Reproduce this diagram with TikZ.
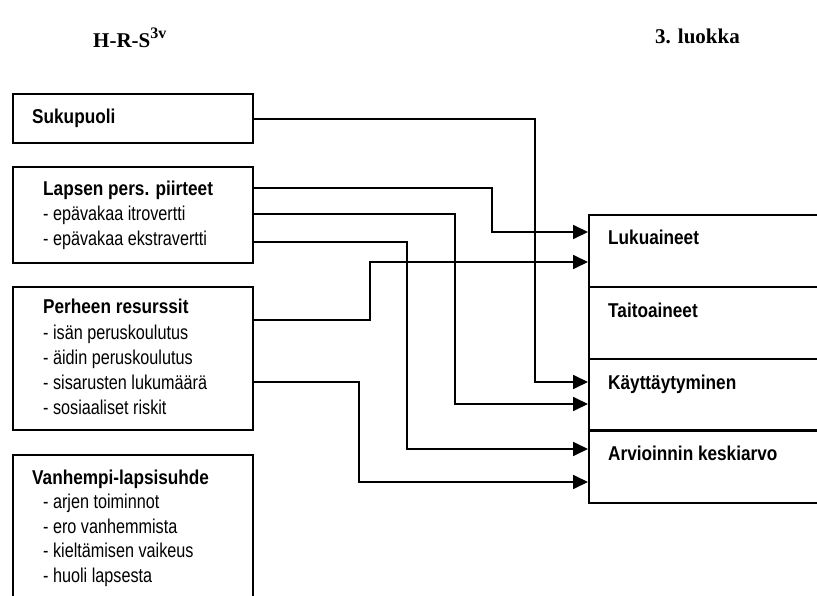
\documentclass[tikz,border=0pt]{standalone}
\usepackage{fontspec}
\usepackage{graphicx}
\setmainfont{Liberation Serif}
\newfontfamily\plainsans{Liberation Sans}
% condensed sans for the diagram labels
\newcommand\narrowreg[1]{\scalebox{0.81}[1]{#1}}
\newcommand\narrowbold[1]{\scalebox{0.86}[1]{#1}}
\usetikzlibrary{arrows.meta}

\tikzset{
  box/.style={draw, line width=2.2pt, anchor=north west, inner sep=0pt},
  lbl/.style={anchor=base west, inner sep=0pt, font=\plainsans\fontsize{20}{25}\selectfont},
  ttl/.style={lbl, font=\plainsans\bfseries\fontsize{20}{25}\selectfont},
  head/.style={anchor=base west, inner sep=0pt, font=\bfseries\fontsize{21}{25}\selectfont},
  conn/.style={line width=1.8pt, -{Triangle[length=15pt, width=14pt]}}
}

\begin{document}
\begin{tikzpicture}[x=1pt, y=-1pt]
\useasboundingbox (0,0) rectangle (817,596);

% heading
\node[head] (hrs) at (93,48) {H-R-S\raisebox{9pt}{\fontsize{16}{16}\selectfont 3v}};
\node[head] (grade) at (655,44) {3. luokka};

% explanatory factors
\node[box, minimum width=240, minimum height=49] (suku) at (12,93) {};
\node[ttl] (sukuT) at (32,124) {\narrowbold{Sukupuoli}};

\node[box, minimum width=240, minimum height=96] (lapsen) at (12,166) {};
\node[ttl] (lapsenT) at (43,196) {\narrowbold{Lapsen pers. piirteet}};
\node[lbl] (lapsen1) at (43,221) {\narrowreg{- epävakaa itrovertti}};
\node[lbl] (lapsen2) at (43,246) {\narrowreg{- epävakaa ekstravertti}};

\node[box, minimum width=240, minimum height=143] (perhe) at (12,286) {};
\node[ttl] (perheT) at (43,313) {\narrowbold{Perheen resurssit}};
\node[lbl] (perhe1) at (43,339) {\narrowreg{- isän peruskoulutus}};
\node[lbl] (perhe2) at (43,364) {\narrowreg{- äidin peruskoulutus}};
\node[lbl] (perhe3) at (43,389) {\narrowreg{- sisarusten lukumäärä}};
\node[lbl] (perhe4) at (43,414) {\narrowreg{- sosiaaliset riskit}};

\node[box, minimum width=240, minimum height=180] (vanh) at (12,454) {};
\node[ttl] (vanhT) at (32,484) {\narrowbold{Vanhempi-lapsisuhde}};
\node[lbl] (vanh1) at (43,508) {\narrowreg{- arjen toiminnot}};
\node[lbl] (vanh2) at (43,533) {\narrowreg{- ero vanhemmista}};
\node[lbl] (vanh3) at (43,557) {\narrowreg{- kieltämisen vaikeus}};
\node[lbl] (vanh4) at (43,582) {\narrowreg{- huoli lapsesta}};

% outcome measures
\node[box, minimum width=320, minimum height=72] (luku) at (588,214) {};
\node[box, minimum width=320, minimum height=72] (taito) at (588,286) {};
\node[box, minimum width=320, minimum height=72] (kayt) at (588,358) {};
\node[box, minimum width=320, minimum height=73] (arv) at (588,429) {};
\node[ttl] (lukuT) at (608,245) {\narrowbold{Lukuaineet}};
\node[ttl] (taitoT) at (608,317) {\narrowbold{Taitoaineet}};
\node[ttl] (kaytT) at (608,389) {\narrowbold{Käyttäytyminen}};
\node[ttl] (arvT) at (608,460) {\narrowbold{Arvioinnin keskiarvo}};

% connectors
\draw[conn] (suku.east |- 0,119) -| (535,382) -- (kayt.west |- 0,382);
\draw[conn] (lapsen.east |- 0,188) -| (492,232) -- (luku.west |- 0,232);
\draw[conn] (lapsen.east |- 0,214) -| (455,404) -- (kayt.west |- 0,404);
\draw[conn] (lapsen.east |- 0,242) -| (407,449) -- (arv.west |- 0,449);
\draw[conn] (perhe.east |- 0,320) -| (370,262) -- (luku.west |- 0,262);
\draw[conn] (perhe.east |- 0,382) -| (359,482) -- (arv.west |- 0,482);
\end{tikzpicture}
\end{document}
